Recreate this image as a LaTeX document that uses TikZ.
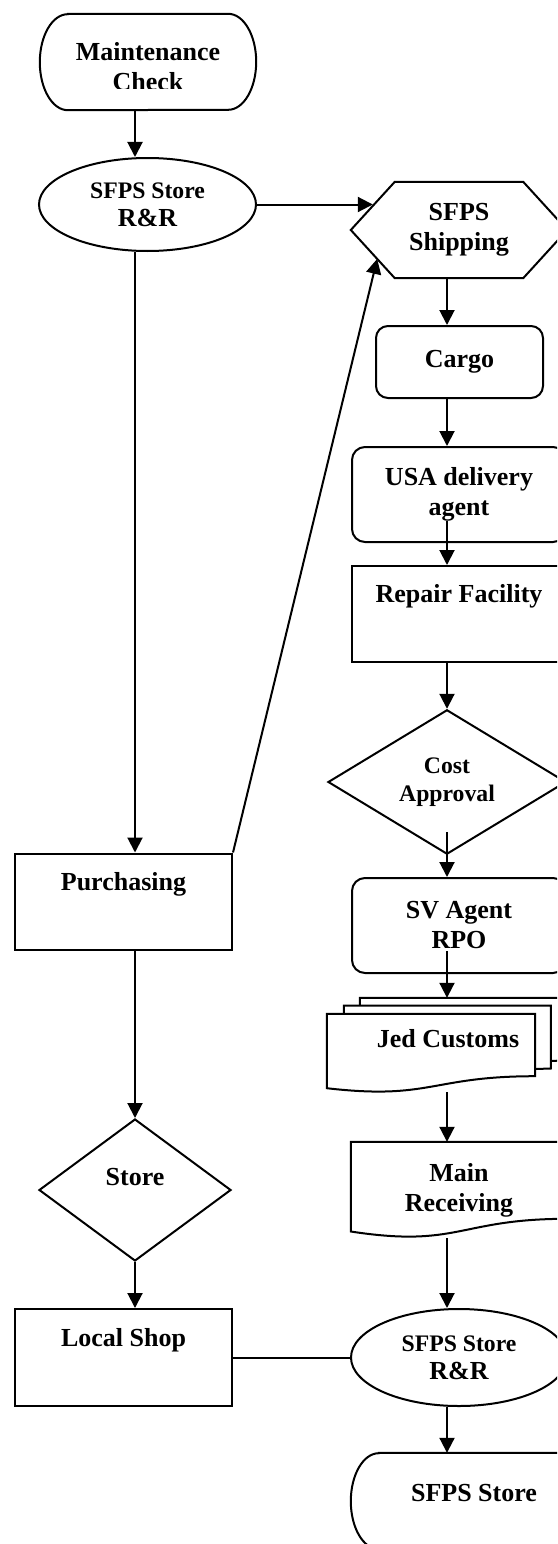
\documentclass[tikz,border=0pt]{standalone}
\usepackage{fontspec}
\setmainfont{Liberation Serif}
\usetikzlibrary{positioning}
\usetikzlibrary{arrows.meta,calc}
\usetikzlibrary{shapes.geometric}

\newcommand{\boxfont}{\fontsize{26}{30}\selectfont\bfseries}
\newcommand{\smallboxfont}{\fontsize{23.7}{28}\selectfont\bfseries}
% terminator outline round a blank node
\newcommand{\termline}[1]{%
\draw[outline] ([xshift=28pt]#1.north west) -- ([xshift=-28pt]#1.north east)
  arc[start angle=90, end angle=-90, x radius=28pt, y radius=48pt]
  -- ([xshift=28pt]#1.south west)
  arc[start angle=270, end angle=90, x radius=28pt, y radius=48pt] -- cycle;}

\tikzset{
every node/.style={font=\boxfont, align=center, inner sep=0pt},
outline/.style={draw, line width=2pt},
proc/.style={outline, rectangle, minimum width=214pt, minimum height=96pt},
rproc/.style={proc, rounded corners=13pt},
oval/.style={outline, ellipse, minimum width=216pt, minimum height=97pt},
decide/.style={outline, diamond, minimum height=142pt},
blank/.style={minimum width=216pt, minimum height=96pt},
arr/.style={line width=2pt, -{Triangle[length=15pt,width=15pt]}},
con/.style={line width=2pt},
}

\begin{document}
\begin{tikzpicture}[x=1pt, y=-1pt]
\useasboundingbox (0,0) rectangle (557,1544);
\clip (0,0) rectangle (557,1544);
\coordinate (lcol) at (135,0);
\coordinate (rcol) at (447,0);

% left column
\node[blank] (maint) at (148,62) {};
\termline{maint}
\begin{scope}
\clip (40,14) rectangle (256,88.5);
\node (mainttxt) at (148,66.5) {Maintenance\\Check};
\end{scope}
\node[oval, minimum width=217pt, minimum height=93pt] (rr1) at (147.5,204.5) {{\smallboxfont SFPS Store}\\[-2pt]R\&R};
\node[proc, minimum width=217pt, text depth=40pt] (purch) at (123.5,901.5) {Purchasing};
\node[decide, minimum width=192pt, text depth=26pt] (store) at (135,1190) {Store};
\node[proc, minimum width=217pt, minimum height=97pt, text depth=41pt] (shop) at (123.5,1357.5) {Local Shop};

% right column
\node[blank] (ship) at (459,230) {SFPS\\Shipping};
\draw[outline] (ship.west) -- ([xshift=44pt]ship.north west) -- ([xshift=-44pt]ship.north east)
  -- (ship.east) -- ([xshift=-44pt]ship.south east) -- ([xshift=44pt]ship.south west) -- cycle;
\coordinate (shipin) at ($(ship.west)!0.5!([xshift=44pt]ship.north west)$);
\coordinate (shiplow) at ($(ship.west)!0.6!([xshift=44pt]ship.south west)$);
\node[rproc, minimum width=167pt, minimum height=72pt, rounded corners=12pt] (cargo) at (459.5,362) {Cargo};
\node[rproc, minimum height=95pt] (usa) at (459,494.5) {USA delivery\\agent};
\node[proc, text depth=42pt] (repair) at (459,614) {Repair Facility};
\node[decide, minimum width=238pt, font=\smallboxfont] (cost) at (447,782) {Cost\\Approval};
\node[rproc, minimum height=95pt] (sv) at (459,925.5) {SV Agent\\RPO};

% multi document
\node[blank, minimum width=242pt, minimum height=94pt, text depth=14pt] (jed) at (448,1045) {Jed Customs};
\begin{scope}[shift={(jed.north west)}]
\draw[outline] (33,7.9) -- (33,0) -- (242,0) -- (242,62.6) -- (224,63.1);
\draw[outline] (17,16) -- (17,7.9) -- (224,7.9) -- (224,70.7) -- (208.3,71.2);
\draw[outline] (0,16) -- (208.3,16) -- (208.3,78.4) .. controls (104.2,78.4) and (104.2,102.4) .. (0,90.4) -- cycle;
\end{scope}

\node[blank] (mainrec) at (459,1190) {Main\\Receiving};
\begin{scope}[shift={(mainrec.north west)}]
\draw[outline] (0,0) -- (216,0) -- (216,77) .. controls (108,77) and (108,106.3) .. (0,89.7) -- cycle;
\end{scope}
\node[oval] (rr2) at (459,1357.5) {{\smallboxfont SFPS Store}\\[-2pt]R\&R};
\node[blank, minimum width=246pt, text depth=16pt] (sfps) at (474,1501) {SFPS Store};
\termline{sfps}

% connectors
\draw[arr] (maint.south -| lcol) -- (rr1.north -| lcol);
\draw[arr] (rr1.south -| lcol) -- (purch.north -| lcol);
\draw[arr] (purch.south -| lcol) -- (store.north);
\draw[arr] (store.south) -- (shop.north -| lcol);
\draw[con] (shop.east) -- (rr2.west);
\draw[arr] (rr1.east) -- (rr1.east -| shipin);
\draw[arr] (purch.north east) -- (shiplow);
\foreach \a/\b in {ship/cargo, cargo/usa, jed/mainrec, mainrec/rr2, rr2/sfps}{
\draw[arr] (\a.south -| rcol) -- (\b.north -| rcol);
}
\draw[arr] ($(usa.south -| rcol)+(0,-22)$) -- (repair.north -| rcol);
\draw[arr] (repair.south -| rcol) -- (cost.north);
\draw[arr] ($(cost.south)+(0,-23)$) -- (sv.north -| rcol);
\draw[arr] ($(sv.south -| rcol)+(0,-23)$) -- (jed.north -| rcol);
\end{tikzpicture}
\end{document}
